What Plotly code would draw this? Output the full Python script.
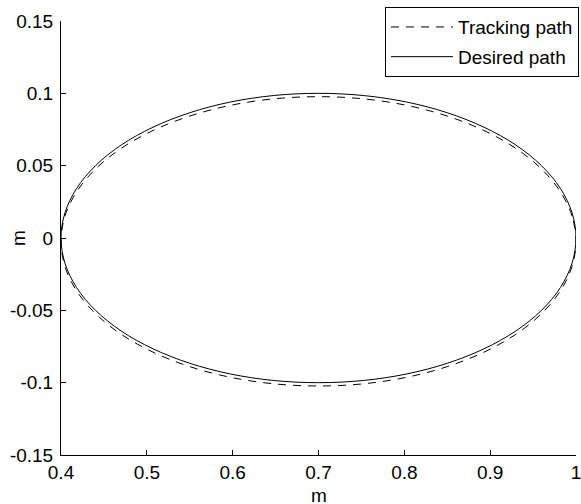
import plotly.graph_objects as go

# Desired path
desired_x = [1.0, 0.9954, 0.9819, 0.9598, 0.9298, 0.8928, 0.85, 0.8026, 0.7521, 0.7,
             0.6479, 0.5974, 0.55, 0.5072, 0.4702, 0.4402, 0.4181, 0.4046, 0.4,
             0.4046, 0.4181, 0.4402, 0.4702, 0.5072, 0.55, 0.5974, 0.6479, 0.7,
             0.7521, 0.8026, 0.85, 0.8928, 0.9298, 0.9598, 0.9819, 0.9954, 1.0]
desired_y = [0, 0.0174, 0.0342, 0.05, 0.0643, 0.0766, 0.0866, 0.094, 0.0985, 0.1,
             0.0985, 0.094, 0.0866, 0.0766, 0.0643, 0.05, 0.0342, 0.0174, 0,
             -0.0174, -0.0342, -0.05, -0.0643, -0.0766, -0.0866, -0.094, -0.0985, -0.1,
             -0.0985, -0.094, -0.0866, -0.0766, -0.0643, -0.05, -0.0342, -0.0174, 0]

# Tracking path
tracking_x = [1.0, 0.9954, 0.9819, 0.9598, 0.9298, 0.8928, 0.85, 0.8026, 0.7521, 0.7,
              0.6479, 0.5974, 0.55, 0.5072, 0.4702, 0.4402, 0.4181, 0.4046, 0.4,
              0.4046, 0.4181, 0.4402, 0.4702, 0.5072, 0.55, 0.5974, 0.6479, 0.7,
              0.7521, 0.8026, 0.85, 0.8928, 0.9298, 0.9598, 0.9819, 0.9954, 1.0]
tracking_y = [-0.0023, 0.0151, 0.0319, 0.0477, 0.062, 0.0743, 0.0843, 0.0917, 0.0962, 0.0977,
              0.0962, 0.0917, 0.0843, 0.0743, 0.062, 0.0477, 0.0319, 0.0151, -0.0023,
              -0.0197, -0.0365, -0.0523, -0.0666, -0.0789, -0.0889, -0.0963, -0.1008, -0.1023,
              -0.1008, -0.0963, -0.0889, -0.0789, -0.0666, -0.0523, -0.0365, -0.0197, -0.0023]

x_ticks = [0.4, 0.5, 0.6, 0.7, 0.8, 0.9, 1.0]
x_ticklabels = ["0.4", "0.5", "0.6", "0.7", "0.8", "0.9", "1"]
y_ticks = [-0.15, -0.1, -0.05, 0, 0.05, 0.1, 0.15]
y_ticklabels = ["-0.15", "-0.1", "-0.05", "0", "0.05", "0.1", "0.15"]
x_title = "m"
y_title = "m"

FONT = "Liberation Sans, Arial, sans-serif"
FS = 19

fig = go.Figure()
fig.add_trace(go.Scatter(
    x=tracking_x, y=tracking_y, mode="lines", name="Tracking path",
    legendgroup="a",
    line=dict(color="black", width=1, dash="8px,7px", shape="spline"),
))
fig.add_trace(go.Scatter(
    x=desired_x, y=desired_y, mode="lines", name="Desired path",
    legendgroup="b",
    line=dict(color="black", width=1, shape="spline"),
))

fig.update_layout(
    width=581, height=504,
    margin=dict(l=61, r=5, t=21, b=49, autoexpand=False),
    paper_bgcolor="white", plot_bgcolor="white",
    font=dict(family=FONT, size=FS, color="black"),
    showlegend=True,
    legend=dict(
        x=1.0058, y=1.032, xanchor="right", yanchor="top",
        bordercolor="black", borderwidth=1, bgcolor="white",
        font=dict(family=FONT, size=FS, color="black"),
        traceorder="grouped", tracegroupgap=2, itemwidth=62,
    ),
    xaxis=dict(
        range=[0.4, 1.0], tickvals=x_ticks, ticktext=x_ticklabels,
        showgrid=False, zeroline=False, showline=True, linecolor="black", linewidth=1,
        ticks="inside", ticklen=5, tickcolor="black", automargin=False,
        ticklabeloverflow="allow",
    ),
    yaxis=dict(
        range=[-0.15, 0.15], tickvals=y_ticks, ticktext=y_ticklabels,
        showgrid=False, zeroline=False, showline=True, linecolor="black", linewidth=1,
        ticks="inside", ticklen=5, tickcolor="black", automargin=False,
        ticklabeloverflow="allow", ticklabelstandoff=3,
    ),
    annotations=[
        dict(text=x_title, xref="paper", yref="paper", x=0.5, y=0,
             xanchor="center", yanchor="middle", yshift=-40, showarrow=False,
             font=dict(family=FONT, size=FS, color="black")),
        dict(text=y_title, xref="paper", yref="paper", x=0, y=0.5,
             xanchor="center", yanchor="middle", xshift=-43, textangle=-90,
             showarrow=False, font=dict(family=FONT, size=FS, color="black")),
    ],
)

fig.write_html(
    "out.html",
    config={"displayModeBar": False},
    post_script="document.body.style.margin='0';document.body.style.overflow='hidden';",
)
